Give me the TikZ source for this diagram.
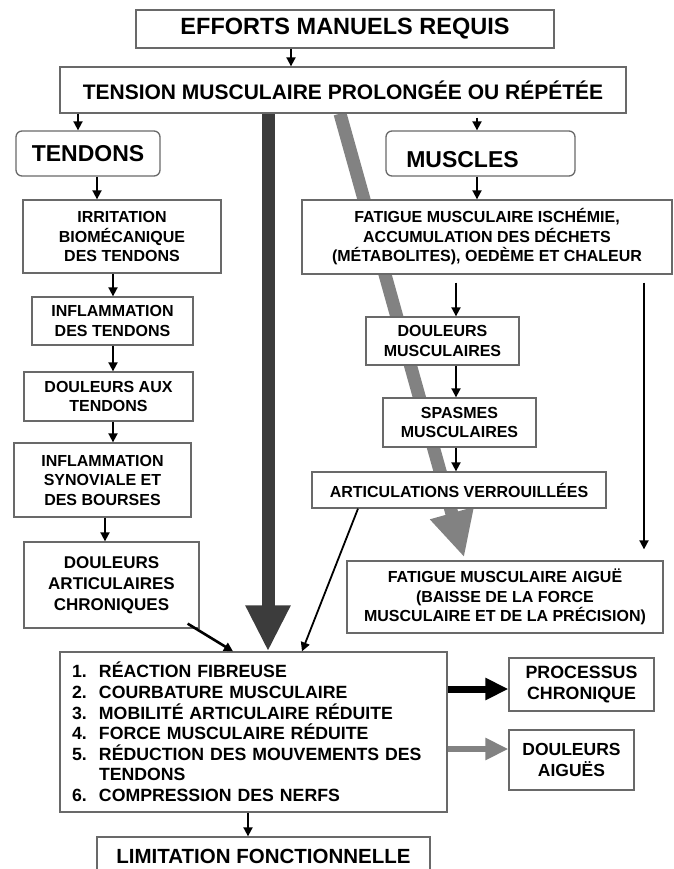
\documentclass[tikz,border=0pt]{standalone}
\usepackage{fontspec}
\setmainfont{Liberation Sans}
\definecolor{boxgray}{RGB}{105,105,105}
\definecolor{darkarr}{RGB}{60,60,60}
\definecolor{lightarr}{RGB}{130,130,130}
\usetikzlibrary{arrows.meta,calc}
\pgfdeclarelayer{bg}
\pgfsetlayers{bg,main}
\newcommand{\itemno}[1]{\makebox[27pt][l]{#1}}

\begin{document}
\begin{tikzpicture}[x=1pt,y=-1pt,
    box/.style={draw=boxgray, line width=1.3pt, fill=white, align=center, inner sep=0pt,
      font=\fontsize{16}{19.5}\selectfont\bfseries},
    rbox/.style={box, rounded corners=6pt, font=\fontsize{23}{27}\selectfont\bfseries},
    sz/.style 2 args={minimum width=#1pt, minimum height=#2pt},
    arr/.style={-{Triangle[length=9pt,width=9pt]}, line width=1.8pt},
    bigarr/.style={-{Triangle[length=46pt,width=42pt]}, line width=13pt},
    sidearr/.style={-{Triangle[length=23pt,width=21pt]}, line width=7pt}
    ]
      \useasboundingbox (0,0) rectangle (673,869);
      \clip (0,0) rectangle (673,869);

      % top
      \node[box, sz={418}{38}, font=\fontsize{23.5}{28}\selectfont\bfseries] (effort) at (345,29) {EFFORTS MANUELS REQUIS};
      \node[box, sz={566}{46}, font=\fontsize{21}{25}\selectfont\bfseries] (tension) at (343,90) {TENSION MUSCULAIRE PROLONGÉE OU RÉPÉTÉE};
      \node[rbox, sz={144}{45}] (tendons) at (88,153.5) {TENDONS};
      \node[rbox, sz={189}{45}, text height=29pt, text depth=0.6pt] (muscles) at (480.5,153.5) {MUSCLES\hspace*{36pt}};

      % tendons side
      \node[box, sz={198}{73}] (irrit) at (122,236.5) {IRRITATION\\BIOMÉCANIQUE\\DES TENDONS};
      \node[box, sz={161}{48}] (inflam) at (112.5,321) {INFLAMMATION\\DES TENDONS};
      \node[box, sz={169}{49}] (doulTend) at (108.5,396.5) {DOULEURS AUX\\TENDONS};
      \node[box, sz={177}{74}] (synov) at (102.5,480) {INFLAMMATION\\SYNOVIALE ET\\DES BOURSES};
      \node[box, sz={175}{86}, font=\fontsize{17}{21}\selectfont\bfseries] (chron) at (111.5,585) {DOULEURS\\ARTICULAIRES\\CHRONIQUES};

      % muscles side
      \node[box, sz={370}{74}] (fatigue) at (487,237) {FATIGUE MUSCULAIRE ISCHÉMIE,\\ACCUMULATION DES DÉCHETS\\(MÉTABOLITES), OEDÈME ET CHALEUR};
      \node[box, sz={153}{48}] (doulMusc) at (442.5,341) {DOULEURS\\MUSCULAIRES};
      \node[box, sz={153}{49}] (spasm) at (459.5,422.5) {SPASMES\\MUSCULAIRES};
      \node[box, sz={294}{36}] (verrou) at (459,490) {ARTICULATIONS VERROUILLÉES};
      \node[box, sz={316}{72}] (aigue) at (505,597) {FATIGUE MUSCULAIRE AIGUË\\(BAISSE DE LA FORCE\\MUSCULAIRE ET DE LA PRÉCISION)};

      % bottom
      \node[box, sz={387}{160}, align=left, text width=363pt, inner xsep=12pt,
            font=\fontsize{17.7}{20.6}\selectfont\bfseries] (list) at (253.5,732)
        {\itemno{1.}RÉACTION FIBREUSE\\
         \itemno{2.}COURBATURE MUSCULAIRE\\
         \itemno{3.}MOBILITÉ ARTICULAIRE RÉDUITE\\
         \itemno{4.}FORCE MUSCULAIRE RÉDUITE\\
         \itemno{5.}RÉDUCTION DES MOUVEMENTS DES\\
         \hspace*{27pt}TENDONS\\
         \itemno{6.}COMPRESSION DES NERFS};
      \node[box, sz={145}{53}, font=\fontsize{17.8}{21}\selectfont\bfseries] (proc) at (581.5,684.5) {PROCESSUS\\CHRONIQUE};
      \node[box, sz={125}{60}, font=\fontsize{17.5}{21}\selectfont\bfseries] (dAigue) at (571.5,760) {DOULEURS\\AIGUËS};
      \node[box, sz={333}{38}, font=\fontsize{20.5}{24}\selectfont\bfseries] (limit) at (263.5,856) {LIMITATION FONCTIONNELLE};

      % thin arrows
      \draw[arr] (effort.south -| 291,0) -- (tension.north -| 291,0);
      \draw[arr] (tension.south -| 78,0) -- (tendons.north -| 78,0);
      \draw[arr] (tendons.south -| 97,0) -- (irrit.north -| 97,0);
      \draw[arr, shorten <=4pt] (tension.south -| 477,0) -- (muscles.north -| 477,0);
      \draw[arr] (muscles.south -| 477,0) -- (fatigue.north -| 477,0);
      \draw[arr] (irrit.south -| 113,0) -- (inflam.north -| 113,0);
      \draw[arr] (inflam.south -| 113,0) -- (doulTend.north -| 113,0);
      \draw[arr] (doulTend.south -| 113,0) -- (synov.north -| 113,0);
      \draw[arr] (synov.south -| 105,0) -- (chron.north -| 105,0);
      \draw[arr, shorten <=8pt] (fatigue.south -| 456,0) -- (doulMusc.north -| 456,0);
      \draw[arr] (doulMusc.south -| 456,0) -- (spasm.north -| 456,0);
      \draw[arr] (spasm.south -| 456,0) -- (verrou.north -| 456,0);
      \draw[arr, shorten <=8pt, shorten >=11pt] (fatigue.south -| 644,0) -- (aigue.north -| 644,0);
      \draw[arr] (verrou.south -| 358,0) -- (list.north -| 302,0);
      \draw[arr, line width=2.6pt] ([xshift=-12pt,yshift=5pt]chron.south east) -- (list.north -| 233,0);
      \draw[arr] (list.south -| 248,0) -- (limit.north -| 248,0);

      % side arrows
      \draw[sidearr, black] (list.east |- 0,689) -- (proc.west |- 0,689);
      \draw[sidearr, lightarr, line width=6pt] (list.east |- 0,749) -- (dAigue.west |- 0,749);

      \begin{pgfonlayer}{bg}
      \draw[bigarr, darkarr] (tension.south -| 268,0) -- (list.north -| 268,0);
      \draw[bigarr, lightarr, shorten >=3pt] (tension.south -| 340,0) -- (aigue.north -| 465,0);
      \end{pgfonlayer}
    \end{tikzpicture}
\end{document}
